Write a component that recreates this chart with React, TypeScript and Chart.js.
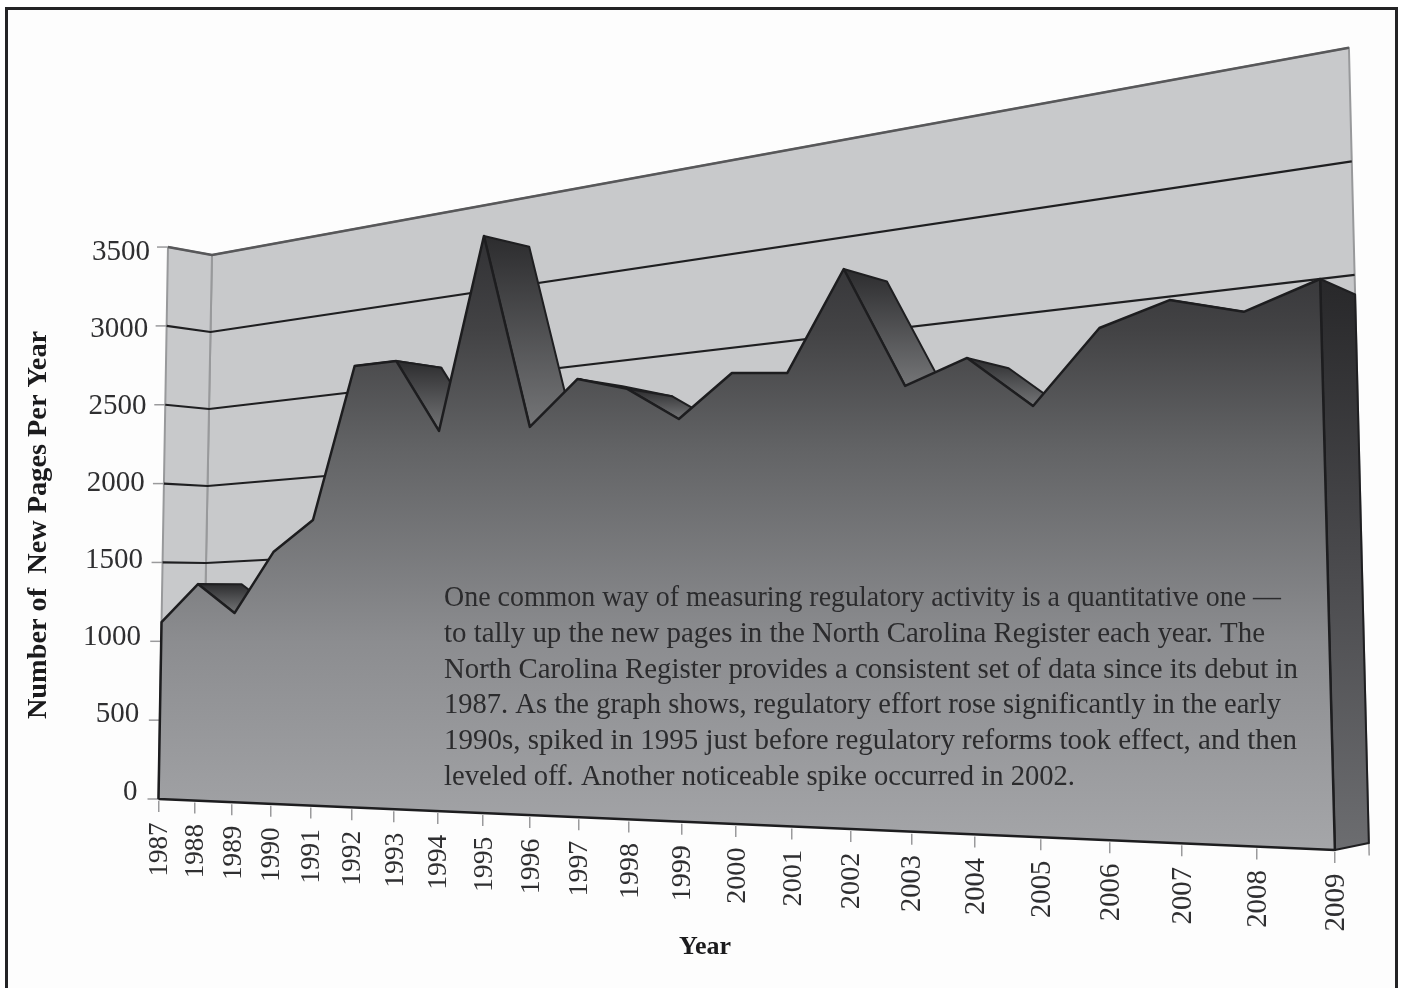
import React, { useEffect, useRef } from "react";
import { Chart, LineController, LineElement, PointElement, LinearScale, Filler } from "chart.js";

// ---------- data ----------
const years = [1987,1988,1989,1990,1991,1992,1993,1994,1995,1996,1997,1998,1999,2000,2001,2002,2003,2004,2005,2006,2007,2008,2009];
const newPages = [1122,1352,1163,1524,1701,2587,2584,2155,3216,2126,2358,2275,2089,2297,2266,2744,2141,2243,1989,2313,2401,2312,2414];
const gridValues = [3000,2500,2000,1500,1000,500];
const wallTop = 3500;
const yTitle = "Number of  New Pages Per Year";
const xTitle = "Year";
const noteLines = [
  "One common way of measuring regulatory activity is a quantitative one \u2014",
  "to tally up the new pages in the North Carolina Register each year. The",
  "North Carolina Register provides a consistent set of data since its debut in",
  "1987. As the graph shows, regulatory effort rose significantly in the early",
  "1990s, spiked in 1995 just before regulatory reforms took effect, and then",
  "leveled off. Another noticeable spike occurred in 2002.",
];
const noteRights = [1281, 1265, 1298, 1281, 1297, 1075];

// ---------- perspective view of the 3D area chart ----------
const SERIF = '"Liberation Serif", serif';
const frontPlane = { c: -0.01515, A: 35.65, x0: 158.5, s0: 0.00271, s1: -0.0061, y0: 799, m: 1.545, sy: 0.1577 };
const backPlane = { c: -0.01465, A: 35.96, x0: 201.5, s0: 0.003, s1: -0.0057, y0: 794, m: 1.51, sy: 0.154 };
const lastU = years.length - 1;

function onPlane(p: typeof frontPlane, u: number, v: number): [number, number] {
  const w = 1 + p.c * u;
  const fx = (p.A * u) / w;
  const span = (p.A * lastU) / (1 + p.c * lastU);
  const slant = p.s0 + (p.s1 - p.s0) * (fx / span);
  return [p.x0 + fx + slant * v, p.y0 + (p.m * u) / w - (p.sy * v) / w];
}
const project = (year: number, v: number, t: number) => onPlane(t ? backPlane : frontPlane, year - years[0], v);

class PerspectiveLineController extends (LineController as any) {
  static id = "perspectiveLine";
  updateElements(points: any[], start: number, count: number, mode: any) {
    super.updateElements(points, start, count, mode);
    const raw = this.getDataset().data;
    for (let i = start; i < start + count; i++) {
      const parsed = this.getParsed(i);
      const [x, y] = project(parsed.x, parsed.y, raw[i].t || 0);
      points[i].x = x;
      points[i].y = y;
    }
  }
}

class PerspectiveXScale extends (LinearScale as any) {
  static id = "perspectiveX";
  getPixelForValue(value: number) {
    return project(value, 0, 0)[0];
  }
  _computeLabelArea() {
    return undefined;
  }
  _computeGridLineItems(area: any) {
    const items = super._computeGridLineItems(area);
    items.forEach((it: any, i: number) => {
      const y = project(this.ticks[i].value, 0, 0)[1];
      it.ty1 = y + 2;
      it.ty2 = y + 13;
    });
    return items;
  }
  _computeLabelItems(area: any) {
    const items = super._computeLabelItems(area);
    items.forEach((it: any, i: number) => {
      const [x, y] = project(this.ticks[i].value, 0, 0);
      it.textOffset = 0;
      it.options.textAlign = "right";
      it.options.textBaseline = "middle";
      it.options.translation = [x + 1.5, y + 23.5];
    });
    return items;
  }
  drawTitle() {
    const { left, right } = this as any;
    this.left = 705 - 600;
    this.right = 705 + 600;
    super.drawTitle();
    this.left = left;
    this.right = right;
  }
}

class PerspectiveYScale extends (LinearScale as any) {
  static id = "perspectiveY";
  getPixelForValue(value: number) {
    return frontPlane.y0 - frontPlane.sy * value;
  }
  _computeLabelArea() {
    return undefined;
  }
  _computeGridLineItems(area: any) {
    const items = super._computeGridLineItems(area);
    items.forEach((it: any, i: number) => {
      const [x, y] = project(years[0], this.ticks[i].value, 0);
      it.tx1 = x - 11;
      it.tx2 = x + 1;
      it.ty1 = it.ty2 = y;
    });
    return items;
  }
  _computeLabelItems(area: any) {
    const items = super._computeLabelItems(area);
    items.forEach((it: any, i: number) => {
      const v = this.ticks[i].value;
      it.textOffset = 0;
      it.options.textAlign = "right";
      it.options.textBaseline = "middle";
      it.options.translation = [137.5 + v * 0.0036, 792 - 0.1543 * v];
    });
    return items;
  }
  drawTitle() {
    const { top, bottom } = this as any;
    this.top = 525 - 450;
    this.bottom = 525 + 450;
    super.drawTitle();
    this.top = top;
    this.bottom = bottom;
  }
}

Chart.register(LineElement, PointElement, LinearScale, Filler, LineController, PerspectiveLineController as any, PerspectiveXScale as any, PerspectiveYScale as any);

const notePlugin = {
  id: "note",
  afterDatasetsDraw(chart: any) {
    const { ctx } = chart;
    ctx.save();
    ctx.font = `29px ${SERIF}`;
    ctx.fillStyle = "#2b2b2d";
    ctx.textAlign = "left";
    ctx.textBaseline = "alphabetic";
    noteLines.forEach((line, i) => {
      ctx.fillText(line, 444, 606 + i * 35.8, noteRights[i] - 444);
    });
    ctx.restore();
  },
};

const noPadding = (s: any) => {
  s.paddingLeft = s.paddingRight = s.paddingTop = s.paddingBottom = 0;
};

export default function App() {
  const ref = useRef<HTMLCanvasElement>(null);
  useEffect(() => {
    const canvas = ref.current!;
    const g2d = canvas.getContext("2d")!;
    const first = years[0];
    const last = years[lastU];

    const ramp = (y0: number, y1: number, stops: [number, string][]) => {
      const g = g2d.createLinearGradient(0, y0, 0, y1);
      stops.forEach(([o, c]) => g.addColorStop(o, c));
      return g;
    };
    const base = { type: "perspectiveLine", pointRadius: 0, tension: 0, borderJoinStyle: "round", clip: false };
    const datasets: any[] = [];
    let order = 100;
    const add = (d: any) => datasets.push({ ...base, order: order--, ...d });

    // walls
    add({
      label: "Back wall",
      data: [
        { x: first, y: wallTop, t: 1 }, { x: last, y: wallTop, t: 1 },
        { x: last, y: 0, t: 1 }, { x: first, y: 0, t: 1 }, { x: first, y: wallTop, t: 1 },
      ],
      backgroundColor: "#c8c9cb", borderColor: "#98999b", borderWidth: 2, fill: "shape",
    });
    add({
      label: "Side wall",
      data: [
        { x: first, y: wallTop, t: 0 }, { x: first, y: wallTop, t: 1 },
        { x: first, y: 0, t: 1 }, { x: first, y: 0, t: 0 }, { x: first, y: wallTop, t: 0 },
      ],
      backgroundColor: "#c8c9cb", borderColor: "#98999b", borderWidth: 2, fill: "shape",
    });
    // gridlines across both walls
    [wallTop, ...gridValues].forEach((g) =>
      add({
        label: `Grid ${g}`,
        data: [{ x: first, y: g, t: 0 }, { x: first, y: g, t: 1 }, { x: last, y: g, t: 1 }],
        borderColor: g === wallTop ? "#58585a" : "#1f1f21",
        borderWidth: g === wallTop ? 2.5 : 2.2, fill: false,
      })
    );
    // back corner tick
    add({
      label: "Corner tick",
      data: [{ x: last, y: 0, t: 1 }, { x: last, y: -55, t: 1 }],
      borderColor: "#9a9a9c", borderWidth: 1.5, fill: false,
    });
    // top surfaces of falling segments
    newPages.forEach((v, i) => {
      if (i === lastU || newPages[i + 1] >= v) return;
      const next = newPages[i + 1];
      const a = project(years[i], v, 0)[1];
      const b = project(years[i + 1], next, 0)[1];
      const top = Math.min(a, project(years[i], v, 1)[1]);
      add({
        label: `Surface ${years[i]}`,
        data: [
          { x: years[i], y: v, t: 0 }, { x: years[i + 1], y: next, t: 0 },
          { x: years[i + 1], y: next, t: 1 }, { x: years[i], y: v, t: 1 }, { x: years[i], y: v, t: 0 },
        ],
        backgroundColor: ramp(top, Math.max(a, b), [[0, "#2c2c2e"], [1, "#747577"]]),
        borderColor: "#1f1f21", borderWidth: 2, fill: "shape",
      });
    });
    // right end cap
    add({
      label: "End cap",
      data: [
        { x: last, y: newPages[lastU], t: 0 }, { x: last, y: newPages[lastU], t: 1 },
        { x: last, y: 0, t: 1 }, { x: last, y: 0, t: 0 }, { x: last, y: newPages[lastU], t: 0 },
      ],
      backgroundColor: ramp(280, 850, [[0, "#28282a"], [0.5, "#4a4a4d"], [1, "#6c6d70"]]),
      borderColor: "#1f1f21", borderWidth: 2, fill: "shape",
    });
    // front face
    add({
      label: "New pages per year",
      data: [
        { x: first, y: 0 },
        ...years.map((y, i) => ({ x: y, y: newPages[i] })),
        { x: last, y: 0 },
        { x: first, y: 0 },
      ],
      backgroundColor: ramp(240, 850, [[0, "#323235"], [0.15, "#434345"], [0.34, "#626365"], [0.66, "#8c8d90"], [1, "#a5a6a9"]]),
      borderColor: "#1d1d1f", borderWidth: 2.5, fill: "shape",
    });

    const chart = new Chart(canvas, {
      type: "line",
      data: { datasets },
      plugins: [notePlugin],
      options: {
        responsive: false,
        animation: false,
        events: [],
        layout: { autoPadding: false, padding: { left: 22, top: 20, right: 5, bottom: 25 } },
        plugins: { legend: { display: false }, tooltip: { enabled: false } },
        scales: {
          x: {
            type: "perspectiveX", axis: "x", position: "bottom", min: first, max: last,
            afterFit: (s: any) => { s.height = 93; noPadding(s); },
            border: { display: false },
            grid: { drawOnChartArea: false, drawTicks: true, tickLength: 10, color: "#9a9a9c", lineWidth: 1.5 },
            ticks: {
              stepSize: 1, autoSkip: false, minRotation: 90, maxRotation: 90, color: "#2f2f31",
              font: (c: any) => ({ family: SERIF, size: 27 + (2 * c.index) / lastU }),
              callback: (v: any) => String(v),
            },
            title: { display: true, text: xTitle, color: "#1b1b1d", padding: 0, font: { family: SERIF, size: 26, weight: "bold" } },
          },
          y: {
            type: "perspectiveY", axis: "y", position: "left", min: 0, max: wallTop,
            afterFit: (s: any) => { s.width = 118; noPadding(s); },
            border: { display: false },
            grid: { drawOnChartArea: false, drawTicks: true, tickLength: 10, color: "#9a9a9c", lineWidth: 1.5 },
            ticks: {
              stepSize: 500, color: "#2f2f31", font: { family: SERIF, size: 29 },
              callback: (v: any) => String(v),
            },
            title: { display: true, text: yTitle, color: "#1b1b1d", padding: 0, font: { family: SERIF, size: 28.3, weight: "bold" } },
          },
        },
      } as any,
    } as any);
    return () => chart.destroy();
  }, []);

  return (
    <div style={{ position: "absolute", left: 0, top: 0, width: 1401, height: 988, overflow: "hidden", background: "#fff" }}>
      <div style={{ position: "absolute", left: 5, top: 7, width: 1387, height: 990, border: "3px solid #232325", background: "#fdfdfd" }} />
      <canvas ref={ref} width={1401} height={988} style={{ position: "absolute", left: 0, top: 0, display: "block" }} />
    </div>
  );
}
